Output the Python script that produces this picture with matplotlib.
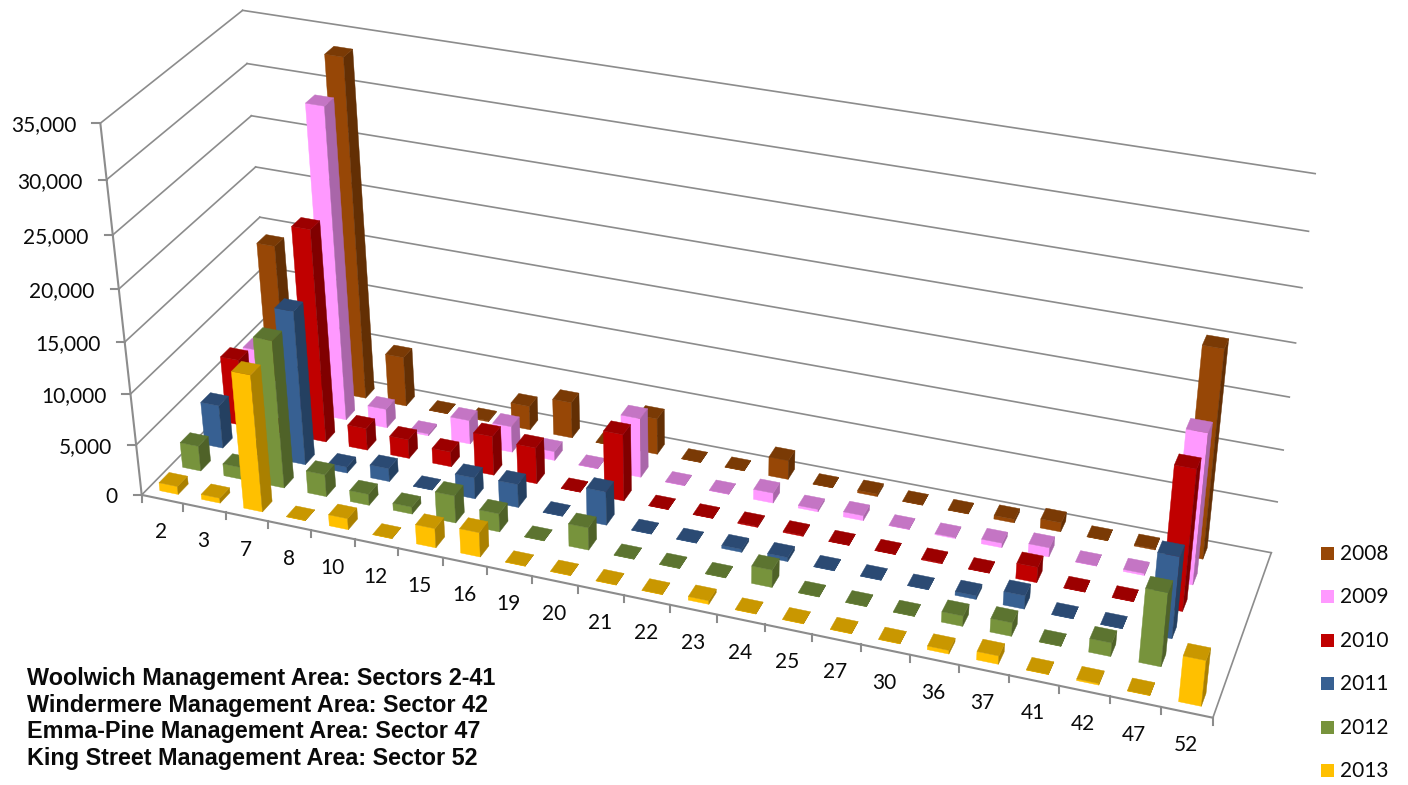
import numpy as np
import matplotlib
matplotlib.use("Agg")
import matplotlib.pyplot as plt
from matplotlib.patches import Polygon, Rectangle

W, H = 1408, 785

# Sectors along the front edge, years from the back row to the front row
sectors = ["2", "3", "7", "8", "10", "12", "15", "16", "19", "20", "21", "22",
           "23", "24", "25", "27", "30", "36", "37", "41", "42", "47", "52"]
years = ["2008", "2009", "2010", "2011", "2012", "2013"]

y2008 = [14000, 300, 33500, 5000, 30, 100, 2400, 3600, 30, 3600, 30, 30,
         1900, 30, 250, 30, 30, 350, 900, 30, 100, 20000, np.nan]
y2009 = [5500, 300, 30700, 1900, 200, 2400, 2600, 900, 30, 5900, 30, 30,
         1000, 250, 500, 30, 100, 450, 900, 30, 200, 14500, np.nan]
y2010 = [6700, 300, 21000, 2200, 1900, 1500, 3900, 3600, 30, 6600, 30, 30,
         100, 100, 30, 30, 80, 30, 1500, 30, 30, 13500, np.nan]
y2011 = [4300, 300, 15200, 600, 1300, 30, 2100, 2300, 30, 3300, 30, 30,
         300, 400, 30, 30, 30, 350, 1300, 30, 30, 7800, np.nan]
y2012 = [2500, 1200, 14500, 2200, 1100, 700, 2700, 1800, 30, 2200, 30, 30,
         30, 1700, 30, 30, 30, 1000, 1300, 30, 1300, 7000, np.nan]
y2013 = [800, 500, 13400, 30, 1100, 30, 1900, 2400, 30, 30, 30, 30,
         350, 30, 30, 30, 30, 350, 800, 30, 150, 30, 4300]
rows = [y2008, y2009, y2010, y2011, y2012, y2013]

y_ticks = [0, 5000, 10000, 15000, 20000, 25000, 30000, 35000]
notes = ["Woolwich Management Area: Sectors 2-41",
         "Windermere Management Area: Sector 42",
         "Emma-Pine Management Area: Sector 47",
         "King Street Management Area: Sector 52"]

# (front, side, top) shades of each year's columns
shades = [("#974706", "#632F04", "#7A3A05"),
          ("#FF99FF", "#A966A9", "#C475C4"),
          ("#C00000", "#800000", "#9C0000"),
          ("#376092", "#244061", "#2B4A73"),
          ("#77933C", "#4F6228", "#5C7430"),
          ("#FFC000", "#AA8000", "#C99700")]
LEGEND_Y = [553, 596, 640, 683, 727, 770]

n_cat, n_row, v_max = len(sectors), len(years), y_ticks[-1]

# Camera calibration: scene point (sector, row depth, value) -> canvas pixel
anchors = [
    (0, 0, 0, 141.7, 492.7), (0, 0, 5000, 137, 443), (0, 0, 10000, 130.7, 393),
    (0, 0, 15000, 125, 342), (0, 0, 20000, 118, 288), (0, 0, 25000, 114, 234),
    (0, 0, 30000, 106.7, 179), (0, 0, 35000, 100, 124),
    (0, 6, 0, 272, 360), (0, 6, 15000, 260, 217), (0, 6, 20000, 255.7, 168),
    (0, 6, 25000, 251.7, 116), (0, 6, 30000, 246.7, 64), (0, 6, 35000, 241.7, 11),
    (23, 6, 0, 1271, 552.7), (23, 6, 5000, 1277.7, 502), (23, 6, 10000, 1283, 450),
    (23, 6, 15000, 1289, 397), (23, 6, 20000, 1296, 343), (23, 6, 25000, 1302, 289),
    (23, 6, 30000, 1309, 232), (23, 6, 35000, 1315, 172),
    (23, 0, 0, 1212.5, 716.7), (1, 0, 0, 183, 507), (2, 0, 0, 225, 517),
]
A, b = [], []
for c, d, v, u, t in anchors:
    v = v / v_max
    A.append([c, d, v, 1, 0, 0, 0, 0, -u * c, -u * d, -u * v])
    b.append(u)
    A.append([0, 0, 0, 0, c, d, v, 1, -t * c, -t * d, -t * v])
    b.append(t)
sol = np.linalg.lstsq(np.array(A, float), np.array(b, float), rcond=None)[0]
P = np.append(sol, 1.0).reshape(3, 4)


def project(c, d, v):
    q = P @ np.array([c, d, v / v_max, 1.0])
    return q[0] / q[2], q[1] / q[2]


def depth(c, d, v):
    return P[2] @ np.array([c, d, v / v_max, 1.0])


def signed_area(pts):
    x, y = np.array(pts).T
    return 0.5 * np.sum(x * np.roll(y, -1) - np.roll(x, -1) * y)


fig = plt.figure(figsize=(W / 100, H / 100), dpi=100, facecolor="white")
ax = fig.add_axes([0, 0, 1, 1])
ax.set_xlim(0, W)
ax.set_ylim(H, 0)
ax.axis("off")

GRID = "#8C8C8C"
LW = 1.2
AXIS_LW = 1.5


def seg(p0, p1, color=GRID, lw=LW):
    ax.plot([p0[0], p1[0]], [p0[1], p1[1]], color=color, lw=lw,
            solid_capstyle="projecting", zorder=1)


# Walls and floor
for v in y_ticks:
    seg(project(0, 0, v), project(0, n_row, v))
    seg(project(0, n_row, v), project(n_cat, n_row, v))
    x0, y0 = project(0, 0, v)
    seg((x0 - 8, y0), (x0, y0), lw=AXIS_LW)
seg(project(0, 0, 0), project(0, 0, v_max), lw=AXIS_LW)
seg(project(0, 0, 0), project(n_cat, 0, 0), lw=AXIS_LW)
seg(project(n_cat, 0, 0), project(n_cat, n_row, 0))
for c in range(n_cat + 1):
    x0, y0 = project(c, 0, 0)
    seg((x0, y0), (x0, y0 + 7), lw=AXIS_LW)

# Columns, far ones first so nearer ones paint over them
BAR_W, BAR_D = 0.44, 0.44
bars = []
for r, row in enumerate(rows):
    d_mid = n_row - r - 0.5
    for c, val in enumerate(row):
        if not np.isnan(val):
            bars.append((depth(c + 0.5, d_mid, 0), c + 0.5, d_mid, val, shades[r]))
bars.sort(key=lambda item: -abs(item[0]))

for order, (_, cx, dy, val, (front, side, top)) in enumerate(bars):
    c0, c1 = cx - BAR_W / 2, cx + BAR_W / 2
    d0, d1 = dy - BAR_D / 2, dy + BAR_D / 2
    faces = [
        ([(c0, d0, 0), (c1, d0, 0), (c1, d0, val), (c0, d0, val)], front),
        ([(c1, d0, 0), (c1, d1, 0), (c1, d1, val), (c1, d0, val)], side),
        ([(c1, d1, 0), (c0, d1, 0), (c0, d1, val), (c1, d1, val)], side),
        ([(c0, d1, 0), (c0, d0, 0), (c0, d0, val), (c0, d1, val)], side),
        ([(c0, d0, val), (c1, d0, val), (c1, d1, val), (c0, d1, val)], top),
    ]
    ref = signed_area([project(*p) for p in faces[0][0]])
    for corners, colour in faces:
        pts = [project(*p) for p in corners]
        if signed_area(pts) * ref > 0:
            ax.add_patch(Polygon(pts, closed=True, facecolor=colour, edgecolor=colour,
                                 lw=0.3, zorder=2 + order * 0.001))

LABEL = dict(family="Lato", fontsize=15, color="#0A0A0A")

# Value axis labels
for v in y_ticks:
    x0, y0 = project(0, 0, v)
    ax.text(x0 - 24, y0 + 2, f"{v:,}", ha="right", va="center", **LABEL)

# Sector labels under the front edge
for c, name in enumerate(sectors):
    x0, y0 = project(c + 0.5, 0, 0)
    ax.text(x0 - 1, y0 + 33, name, ha="center", va="center", **LABEL)

# Year key
for name, (front, _, _), ly in zip(years, shades, LEGEND_Y):
    ax.add_patch(Rectangle((1321, ly - 6.5), 13, 13, facecolor=front, edgecolor="none"))
    ax.text(1340, ly + 1, name, ha="left", va="center", **LABEL)

# Management area notes
for line, base in zip(notes, [685, 712, 738, 765]):
    ax.text(27, base, line, ha="left", va="baseline", family="Liberation Sans",
            fontweight="bold", fontsize=16.8, color="#0A0A0A")

fig.savefig("out.png", dpi=100, facecolor="white")
